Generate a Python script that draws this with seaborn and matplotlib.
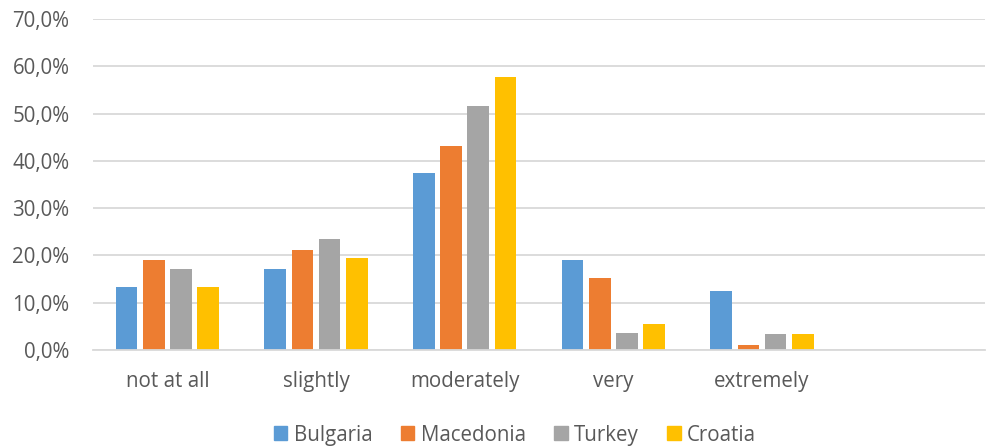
import matplotlib
matplotlib.use("Agg")
import matplotlib.pyplot as plt
import seaborn as sns
import pandas as pd
from matplotlib.ticker import FuncFormatter, MultipleLocator

categories = ["not at all", "slightly", "moderately", "very", "extremely"]
countries = ["Bulgaria", "Macedonia", "Turkey", "Croatia"]
bulgaria = [13.3, 17.1, 37.4, 19.0, 12.5]
macedonia = [19.0, 21.1, 43.1, 15.2, 1.0]
turkey = [17.2, 23.5, 51.6, 3.5, 3.4]
croatia = [13.3, 19.5, 57.7, 5.4, 3.4]
colors = ["#5B9BD5", "#ED7D31", "#A5A5A5", "#FFC000"]

rows = []
for name, vals in zip(countries, [bulgaria, macedonia, turkey, croatia]):
    for c, v in zip(categories, vals):
        rows.append({"category": c, "country": name, "value": v})
df = pd.DataFrame(rows)

sns.set_theme(style="white")
plt.rcParams["font.family"] = ["Open Sans", "DejaVu Sans"]

fig = plt.figure(figsize=(9.87, 4.48), dpi=100)
ax = fig.add_axes([93/987, 1-350/448, (985-93)/987, (350-19)/448])

sns.barplot(data=df, x="category", y="value", hue="country",
            order=categories, hue_order=countries, palette=colors,
            saturation=1, width=0.73, gap=0.2, linewidth=0, ax=ax, legend=False)

ax.set_xlim(-0.5, 5.5)
ax.set_ylim(0, 70)
ax.yaxis.set_major_locator(MultipleLocator(10))
ax.yaxis.set_major_formatter(FuncFormatter(lambda v, p: f"{v:.1f}%".replace(".", ",")))
ax.grid(axis="y", color="#d9d9d9", linewidth=1.3)
ax.set_axisbelow(True)
for s in ["top", "right", "left"]:
    ax.spines[s].set_visible(False)
ax.spines["bottom"].set_color("#d9d9d9")
ax.spines["bottom"].set_linewidth(1.3)
ax.set_xlabel("")
ax.set_ylabel("")
ax.tick_params(axis="both", length=0, labelsize=14.8, labelcolor="#595959")
ax.tick_params(axis="y", pad=17)
ax.tick_params(axis="x", pad=15)

handles = [plt.Rectangle((0, 0), 1, 1, color=c) for c in colors]
fig.legend(handles, countries, loc="center", bbox_to_anchor=(515/987, 1-435/448),
           ncol=4, frameon=False, fontsize=14.8, handlelength=0.65, handleheight=0.65,
           handletextpad=0.3, columnspacing=1.4, labelcolor="#595959")

fig.savefig("out.png", dpi=100)
